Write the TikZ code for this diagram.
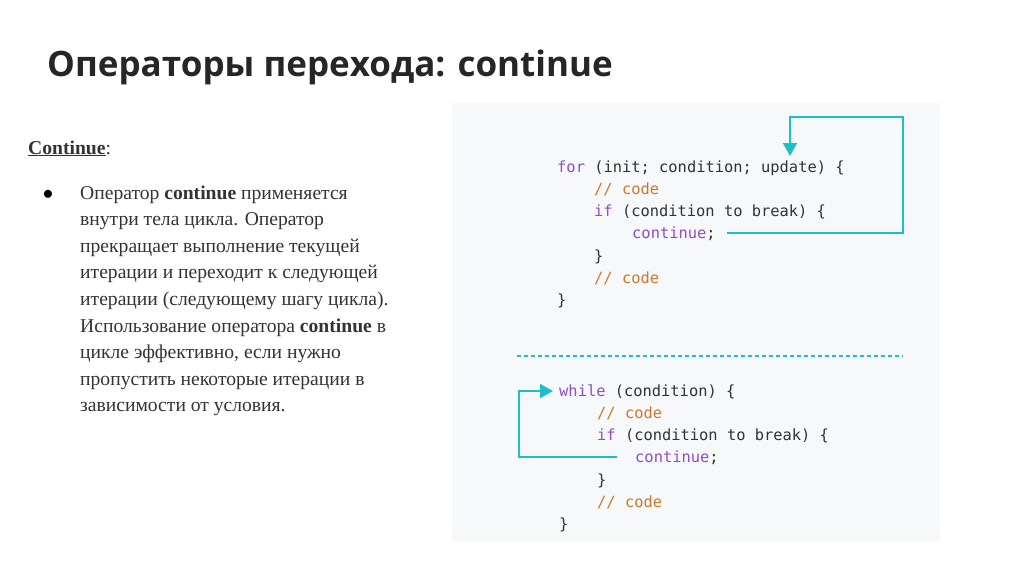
\documentclass[tikz,border=0pt]{standalone}
\usepackage{fontspec}
\setmainfont{Liberation Serif}
\newfontfamily\titlefont{Open Sans}
\newfontfamily\codefont{DejaVu Sans Mono}
\usetikzlibrary{arrows.meta}
\definecolor{kw}{HTML}{8A4FC9}
\definecolor{cm}{HTML}{C87A2C}
\definecolor{cy}{HTML}{1DBEC9}
\definecolor{panel}{HTML}{F7F8FA}
\definecolor{txt}{HTML}{333333}
\begin{document}
\begin{tikzpicture}[x=1pt,y=-1pt,
  codeline/.style={anchor=base west,inner sep=0,font=\codefont\fontsize{15.4}{17}\selectfont,text=txt},
  body/.style={anchor=base west,inner sep=0,font=\fontsize{19.6}{21}\selectfont,text=txt},
  loop/.style={draw=cy,line width=1.6pt},
  tip/.style={-{Triangle[length=13pt,width=14pt]}}]
\useasboundingbox (0,0) rectangle (1024,576);
\fill[white] (0,0) rectangle (1024,576);
\node[anchor=west,inner sep=0,font=\titlefont\bfseries\fontsize{35}{38}\selectfont,text=black!85] (title) at (47,67) {Операторы перехода: continue};
\node[body] (hd) at (28,154) {\textbf{\underline{Continue}}:};
\node[anchor=base,inner sep=0,font=\fontsize{19.6}{21}\selectfont] (bul) at (48,199) {$\bullet$};
\foreach \t [count=\i from 0] in {Оператор \textbf{continue} применяется,внутри тела цикла. Оператор,прекращает выполнение текущей,итерации и переходит к следующей,итерации (следующему шагу цикла).,Использование оператора \textbf{continue} в,цикле эффективно{,} если нужно,пропустить некоторые итерации в,зависимости от условия.}
  \node[body] (b\i) at (80,{199+26.6*\i}) {\t};
\fill[panel] (452,103) rectangle (940,541);
% for loop
\node[codeline] (f1) at (557,172) {\textcolor{kw}{for} (init; condition; update) \{};
\node[codeline] (f2) at (594,194) {\textcolor{cm}{// code}};
\node[codeline] (f3) at (594,216) {\textcolor{kw}{if} (condition to break) \{};
\node[codeline] (f4) at (632,238) {\textcolor{kw}{continue};};
\node[codeline] (f5) at (594,261) {\}};
\node[codeline] (f6) at (594,283) {\textcolor{cm}{// code}};
\node[codeline] (f7) at (557,305) {\}};
\coordinate (fa) at (727,233);
\coordinate (fb) at (790,156);
\draw[loop,tip] (fa) -- (903,233) -- (903,117) -- (790,117) -- (fb);
\draw[cy,line width=1.4pt,dash pattern=on 4pt off 3pt] (517,356) -- (903,356);
% while loop
\node[codeline] (w1) at (559,396) {\textcolor{kw}{while} (condition) \{};
\node[codeline] (w2) at (597,418) {\textcolor{cm}{// code}};
\node[codeline] (w3) at (597,440) {\textcolor{kw}{if} (condition to break) \{};
\node[codeline] (w4) at (635,462) {\textcolor{kw}{continue};};
\node[codeline] (w5) at (597,485) {\}};
\node[codeline] (w6) at (597,507) {\textcolor{cm}{// code}};
\node[codeline] (w7) at (559,529) {\}};
\coordinate (wa) at (617,457);
\coordinate (wb) at (553,391);
\draw[loop,tip] (wa) -- (519,457) -- (519,391) -- (wb);
\end{tikzpicture}
\end{document}
